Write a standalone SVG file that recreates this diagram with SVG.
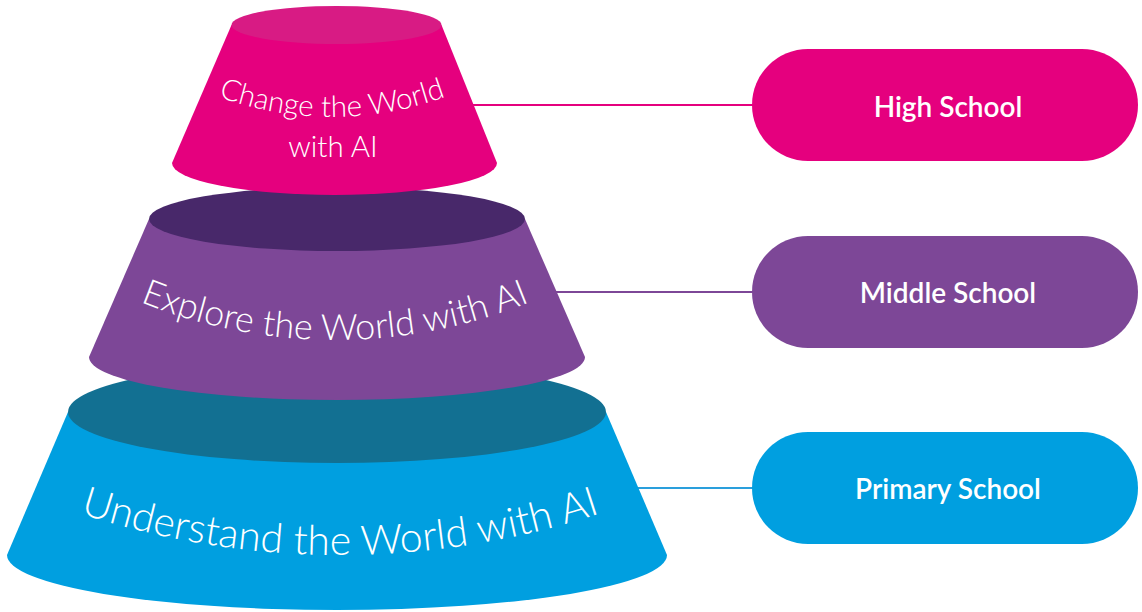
<svg xmlns="http://www.w3.org/2000/svg" width="1142" height="612" viewBox="0 0 1142 612">
  <style>
    .tiertext { font-family: Lato, "Open Sans", "Liberation Sans", sans-serif; font-weight: 300; fill: #ffffff; }
    .pilltext { font-family: Lato, "Open Sans", "Liberation Sans", sans-serif; font-weight: 600; font-size: 28px; fill: #ffffff; text-anchor: middle; }
    .conn { stroke-width: 2; fill: none; }
  </style>
  <defs>
    <path id="arcBottom" d="M 40,499.1 A 833 833 0 0 0 640,499.1"/>
    <path id="arcMiddle" d="M 95,281.2 A 519 519 0 0 0 575,281.2"/>
    <path id="arcTop" d="M 182,80.8 A 329 329 0 0 0 482,80.8"/>
  </defs>
  <rect width="1142" height="612" fill="#ffffff"/>

  <g id="connectors">
    <line class="conn" x1="460" y1="105" x2="760" y2="105" stroke="#e5007e"/>
    <line class="conn" x1="540" y1="292" x2="760" y2="292" stroke="#7d4797"/>
    <line class="conn" x1="620" y1="488" x2="760" y2="488" stroke="#2a9fdc"/>
  </g>

  <g id="tier-primary">
    <path d="M 68,412 L 7,555 A 330 55 0 0 0 667,555 L 606,412 Z" fill="#009fe0"/>
    <ellipse cx="337" cy="412" rx="269" ry="51" fill="#127092"/>
  </g>

  <g id="tier-middle">
    <path d="M 149,219 L 89,357 A 248 43 0 0 0 585,357 L 525,219 Z" fill="#7d4797"/>
    <ellipse cx="337" cy="219" rx="188" ry="32" fill="#48286a"/>
  </g>

  <g id="tier-high">
    <path d="M 231.5,25 L 172,163 A 162.5 32 0 0 0 497,163 L 441.5,25 Z" fill="#e5007e"/>
    <ellipse cx="336.5" cy="25" rx="105" ry="19" fill="#d81b84"/>
  </g>

  <g id="label-primary-tier">
    <text class="tiertext" font-size="41"><textPath href="#arcBottom" startOffset="50%" text-anchor="middle">Understand the World with AI</textPath></text>
  </g>
  <g id="label-middle-tier">
    <text class="tiertext" font-size="36"><textPath href="#arcMiddle" startOffset="50%" text-anchor="middle">Explore the World with AI</textPath></text>
  </g>
  <g id="label-high-tier">
    <text class="tiertext" font-size="29.5"><textPath href="#arcTop" startOffset="50%" text-anchor="middle">Change the World</textPath></text>
    <text class="tiertext" font-size="29.5" x="333" y="157" text-anchor="middle">with AI</text>
  </g>

  <g id="pill-high">
    <rect x="752" y="49" width="386" height="112" rx="56" fill="#e5007e"/>
    <text class="pilltext" x="948" y="117">High School</text>
  </g>
  <g id="pill-middle">
    <rect x="752" y="236" width="386" height="112" rx="56" fill="#7d4797"/>
    <text class="pilltext" x="948" y="303">Middle School</text>
  </g>
  <g id="pill-primary">
    <rect x="752" y="432" width="386" height="112" rx="56" fill="#009fe0"/>
    <text class="pilltext" x="948" y="499">Primary School</text>
  </g>
</svg>
